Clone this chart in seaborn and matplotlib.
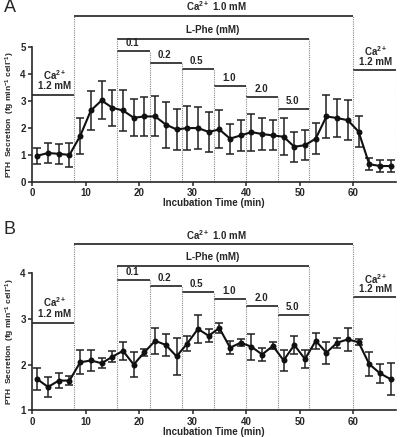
import numpy as np
import pandas as pd
import matplotlib
matplotlib.use("Agg")
import matplotlib.pyplot as plt
import seaborn as sns

# sampling times (min)
time = list(range(1, 68, 2))

# panel A: PTH secretion, mean and error
a_mean = [0.97, 1.07, 1.04, 1.0, 1.7, 2.64, 3.01, 2.74, 2.64, 2.37, 2.42, 2.42,
          2.12, 1.94, 1.99, 1.99, 1.85, 1.94, 1.6, 1.72, 1.84, 1.77, 1.72, 1.67,
          1.3, 1.36, 1.6, 2.42, 2.36, 2.28, 1.86, 0.66, 0.59, 0.59]
a_err = [0.29, 0.36, 0.38, 0.43, 0.65, 0.73, 0.7, 0.66, 0.76, 0.69, 0.72, 0.74,
         0.85, 0.75, 0.8, 0.76, 0.74, 0.7, 0.55, 0.57, 0.68, 0.58, 0.55, 0.68,
         0.55, 0.56, 0.58, 0.78, 0.7, 0.73, 0.56, 0.21, 0.22, 0.22]

# panel B
b_mean = [1.68, 1.51, 1.65, 1.65, 2.05, 2.09, 2.03, 2.17, 2.3, 2.0, 2.27, 2.52,
          2.43, 2.18, 2.46, 2.78, 2.63, 2.8, 2.37, 2.48, 2.39, 2.22, 2.41, 2.09,
          2.43, 2.12, 2.52, 2.26, 2.48, 2.55, 2.49, 2.01, 1.81, 1.68]
b_err = [0.24, 0.22, 0.16, 0.1, 0.26, 0.22, 0.11, 0.12, 0.19, 0.28, 0.08, 0.29,
         0.24, 0.41, 0.17, 0.3, 0.14, 0.11, 0.14, 0.07, 0.28, 0.14, 0.08, 0.22,
         0.19, 0.2, 0.17, 0.24, 0.11, 0.25, 0.06, 0.26, 0.21, 0.35]

# protocol periods (min)
ca_low = (7.8, 60)
phe_period = (15.8, 51.7)
phe_steps = [15.8, 22, 28, 34, 40, 46, 51.7]
phe_labels = ["0.1", "0.2", "0.5", "1.0", "2.0", "5.0"]
end_time = 68

# annotation bar heights per panel
levels = {
    "A": dict(ca10=6.14, phe=5.29, conc=[4.83, 4.4, 4.16, 3.55, 3.12, 2.68],
              left=3.22, right=4.13),
    "B": dict(ca10=4.64, phe=4.16, conc=[3.85, 3.72, 3.58, 3.44, 3.29, 3.09],
              left=2.92, right=3.47),
}

sns.set_style("ticks")
plt.rcParams["font.family"] = ["Liberation Sans", "DejaVu Sans"]
plt.rcParams["font.weight"] = "bold"
plt.rcParams["mathtext.fontset"] = "custom"
plt.rcParams["mathtext.rm"] = "Liberation Sans:bold"
plt.rcParams["mathtext.bf"] = "Liberation Sans:bold"
plt.rcParams["mathtext.default"] = "bf"

fig = plt.figure(figsize=(4.0, 4.37), dpi=100)
ax_a = fig.add_axes([0.08, 0.5835, 0.91, 0.4165])
ax_b = fig.add_axes([0.08, 0.0611, 0.91, 0.431])

hcol = "#404040"
vcol = "#8a8a8a"
fs = 7


def label(ax, text, x, y, dy):
    ax.annotate(text, (x, y), xytext=(0, dy), textcoords="offset points",
                ha="center", va="center", fontsize=fs, fontweight="bold",
                annotation_clip=False)


def draw_panel(ax, mean, err, lv, ylo, yhi, ytop, letter):
    df = pd.DataFrame({"time": time, "pth": mean, "err": err})
    ax.set_xlim(0, end_time)
    ax.set_ylim(ylo, ytop)

    # protocol bars
    kw = dict(color=hcol, lw=1.4, solid_capstyle="butt", clip_on=False)
    ax.plot([0, ca_low[0]], [lv["left"]] * 2, **kw)
    ax.plot(list(ca_low), [lv["ca10"]] * 2, **kw)
    ax.plot(list(phe_period), [lv["phe"]] * 2, **kw)
    ax.plot([ca_low[1], end_time], [lv["right"]] * 2, **kw)
    for i, c in enumerate(phe_labels):
        ax.plot(phe_steps[i:i + 2], [lv["conc"][i]] * 2, **kw)
        label(ax, c, (phe_steps[i] + phe_steps[i + 1]) / 2 - 0.2, lv["conc"][i], 5.8)

    # dotted dividers
    vk = dict(color=vcol, lw=0.8, ls=(0, (1, 1)))
    ax.vlines(ca_low[0], ylo, lv["ca10"], **vk)
    ax.vlines(ca_low[1], ylo, lv["ca10"], **vk)
    ax.vlines(phe_period[0], ylo, lv["phe"], **vk)
    ax.vlines(phe_period[1], ylo, lv["phe"], **vk)
    for i in range(1, len(phe_steps) - 1):
        ax.vlines(phe_steps[i], ylo, max(lv["conc"][i - 1], lv["conc"][i]), **vk)
    ax.vlines(end_time, ylo, lv["right"], **vk)

    label(ax, "Ca$^{2+}$ 1.0 mM", sum(ca_low) / 2 + 0.6, lv["ca10"], 6.5)
    label(ax, "L-Phe (mM)", sum(phe_period) / 2, lv["phe"], 6.2)
    label(ax, "Ca$^{2+}$", 4.2, lv["left"], 14.5)
    label(ax, "1.2 mM", 4.2, lv["left"], 6.2)
    label(ax, "Ca$^{2+}$", 64.2, lv["right"], 13.5)
    label(ax, "1.2 mM", 64.2, lv["right"], 5.8)

    # data
    ax.errorbar(df["time"], df["pth"], yerr=df["err"], fmt="none",
                ecolor="#202020", elinewidth=1.1, capsize=2.6, capthick=1.1,
                zorder=3)
    sns.lineplot(data=df, x="time", y="pth", ax=ax, color="#111111", lw=1.5,
                 marker="o", markersize=4.3, markeredgewidth=0, zorder=4)

    sns.despine(ax=ax)
    ax.spines["left"].set_bounds(ylo, yhi)
    ax.spines["bottom"].set_bounds(0, end_time)
    ax.spines["left"].set_linewidth(1.2)
    ax.spines["bottom"].set_linewidth(1.2)
    ax.set_yticks(np.arange(ylo, yhi + 1))
    ax.set_xticks(np.arange(0, 61, 10))
    ax.tick_params(labelsize=fs, length=3, width=1.1, pad=1.5)
    for t in ax.get_xticklabels() + ax.get_yticklabels():
        t.set_fontweight("bold")

    ax.set_xlabel("Incubation Time (min)", fontsize=fs, fontweight="bold", labelpad=0)
    ax.set_ylabel("PTH  Secretion  (fg min$^{-1}$ cell$^{-1}$)",
                  fontsize=6, fontweight="bold")
    ax.yaxis.set_label_coords(-0.041, ((ylo + yhi) / 2 - ylo) / (ytop - ylo))
    ax.text(-0.078, 1.005, letter, transform=ax.transAxes, fontsize=13,
            fontweight="normal", va="top", ha="left")


draw_panel(ax_a, a_mean, a_err, levels["A"], 0, 5, 6.716, "A")
draw_panel(ax_b, b_mean, b_err, levels["B"], 1, 4, 5.12, "B")

fig.savefig("out.png", dpi=100)
